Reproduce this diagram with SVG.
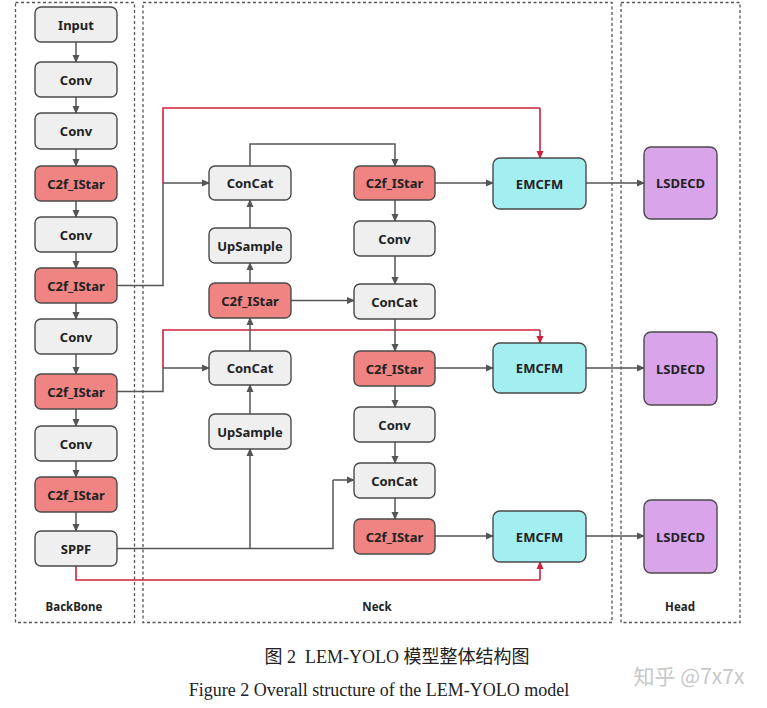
<svg xmlns="http://www.w3.org/2000/svg" width="767" height="708" viewBox="0 0 767 708">
<defs>
<marker id="ag" markerWidth="8" markerHeight="8" refX="7" refY="4" orient="auto" markerUnits="userSpaceOnUse"><path d="M0,0.5 L8,4 L0,7.5 Z" fill="#555"/></marker>
<marker id="ar" markerWidth="8" markerHeight="8" refX="7" refY="4" orient="auto" markerUnits="userSpaceOnUse"><path d="M0,0.5 L8,4 L0,7.5 Z" fill="#d0203a"/></marker>
</defs>
<style>
.grp{fill:none;stroke:#555;stroke-width:1.3;stroke-dasharray:3 2.5}
.n rect{stroke:#4a4a4a;stroke-width:1.4}
.g rect{fill:#efefef}
.r rect{fill:#ef8482}
.c rect{fill:#a2eef0}
.p rect{fill:#daa4ea}
.n text{font-family:"Noto Sans","Liberation Sans",sans-serif;font-weight:bold;font-size:13px;fill:#222;text-anchor:middle;dominant-baseline:central}
.lbl{font-family:"Noto Sans","Liberation Sans",sans-serif;font-weight:bold;font-size:11.5px;fill:#222;text-anchor:middle}
.e{fill:none;stroke:#555;stroke-width:1.5}
.ea{fill:none;stroke:#555;stroke-width:1.5;marker-end:url(#ag)}
.re{fill:none;stroke:#d0203a;stroke-width:1.6}
.ra{fill:none;stroke:#d0203a;stroke-width:1.6;marker-end:url(#ar)}
</style>
<rect width="767" height="708" fill="#fff"/>
<g id="groups">
<rect class="grp" x="15.5" y="2.5" width="119" height="620"/>
<rect class="grp" x="143" y="2.5" width="469" height="620"/>
<rect class="grp" x="621" y="2.5" width="119" height="620"/>
<text class="lbl" x="74" y="611">BackBone</text>
<text class="lbl" x="377" y="611">Neck</text>
<text class="lbl" x="680" y="611">Head</text>
</g>
<g id="connectors">
<path class="ea" d="M76,42 V62"/>
<path class="ea" d="M76,97 V113"/>
<path class="ea" d="M76,149 V166"/>
<path class="ea" d="M76,201 V217"/>
<path class="ea" d="M76,252 V268"/>
<path class="ea" d="M76,303 V319"/>
<path class="ea" d="M76,354 V374"/>
<path class="ea" d="M76,409 V426"/>
<path class="ea" d="M76,461 V477"/>
<path class="ea" d="M76,512 V531"/>
<path class="e" d="M117,285.5 H163 V183"/>
<path class="ea" d="M163,183 H209"/>
<path class="re" d="M163,183 V108 H540"/>
<path class="ra" d="M540,108 V158"/>
<path class="e" d="M117,391.5 H163 V368"/>
<path class="ea" d="M163,368 H209"/>
<path class="re" d="M163,368 V330 H540"/>
<path class="ra" d="M540,330 V343"/>
<path class="e" d="M117,548.5 H333 V480"/>
<path class="ea" d="M333,480 H354"/>
<path class="ea" d="M250,548.5 V449"/>
<path class="re" d="M76,566 V580 H540"/>
<path class="ra" d="M540,580 V562"/>
<path class="ea" d="M250,414 V385"/>
<path class="ea" d="M250,351 V318"/>
<path class="ea" d="M250,283 V263"/>
<path class="ea" d="M250,228 V200"/>
<path class="ea" d="M250,166 V144 H395 V166"/>
<path class="ea" d="M291,300.5 H354"/>
<path class="ea" d="M395,200 V221"/>
<path class="ea" d="M395,256 V284"/>
<path class="ea" d="M395,319 V351"/>
<path class="ea" d="M395,386 V407"/>
<path class="ea" d="M395,442 V463"/>
<path class="ea" d="M395,498 V519"/>
<path class="ea" d="M435,183 H493"/>
<path class="ea" d="M435,368 H493"/>
<path class="ea" d="M435,536 H493"/>
<path class="ea" d="M586,183 H644"/>
<path class="ea" d="M586,368 H644"/>
<path class="ea" d="M586,536 H644"/>
</g>
<g id="bb_input" class="n g"><rect x="35" y="7" width="82" height="35" rx="6"/><text x="76" y="24.5">Input</text></g>
<g id="bb_conv1" class="n g"><rect x="35" y="62" width="82" height="35" rx="6"/><text x="76" y="79.5">Conv</text></g>
<g id="bb_conv2" class="n g"><rect x="35" y="113" width="82" height="36" rx="6"/><text x="76" y="131">Conv</text></g>
<g id="bb_c2f1" class="n r"><rect x="35" y="166" width="82" height="35" rx="6"/><text x="76" y="183.5">C2f_IStar</text></g>
<g id="bb_conv3" class="n g"><rect x="35" y="217" width="82" height="35" rx="6"/><text x="76" y="234.5">Conv</text></g>
<g id="bb_c2f2" class="n r"><rect x="35" y="268" width="82" height="35" rx="6"/><text x="76" y="285.5">C2f_IStar</text></g>
<g id="bb_conv4" class="n g"><rect x="35" y="319" width="82" height="35" rx="6"/><text x="76" y="336.5">Conv</text></g>
<g id="bb_c2f3" class="n r"><rect x="35" y="374" width="82" height="35" rx="6"/><text x="76" y="391.5">C2f_IStar</text></g>
<g id="bb_conv5" class="n g"><rect x="35" y="426" width="82" height="35" rx="6"/><text x="76" y="443.5">Conv</text></g>
<g id="bb_c2f4" class="n r"><rect x="35" y="477" width="82" height="35" rx="6"/><text x="76" y="494.5">C2f_IStar</text></g>
<g id="bb_sppf" class="n g"><rect x="35" y="531" width="82" height="35" rx="6"/><text x="76" y="548.5">SPPF</text></g>
<g id="n_concat1" class="n g"><rect x="209" y="166" width="82" height="34" rx="6"/><text x="250" y="183">ConCat</text></g>
<g id="n_up1" class="n g"><rect x="209" y="228" width="82" height="35" rx="6"/><text x="250" y="245.5">UpSample</text></g>
<g id="n_c2f1" class="n r"><rect x="209" y="283" width="82" height="35" rx="6"/><text x="250" y="300.5">C2f_IStar</text></g>
<g id="n_concat2" class="n g"><rect x="209" y="351" width="82" height="34" rx="6"/><text x="250" y="368">ConCat</text></g>
<g id="n_up2" class="n g"><rect x="209" y="414" width="82" height="35" rx="6"/><text x="250" y="431.5">UpSample</text></g>
<g id="n_c2f2" class="n r"><rect x="354" y="166" width="81" height="34" rx="6"/><text x="394.5" y="183">C2f_IStar</text></g>
<g id="n_conv1" class="n g"><rect x="354" y="221" width="81" height="35" rx="6"/><text x="394.5" y="238.5">Conv</text></g>
<g id="n_concat3" class="n g"><rect x="354" y="284" width="81" height="35" rx="6"/><text x="394.5" y="301.5">ConCat</text></g>
<g id="n_c2f3" class="n r"><rect x="354" y="351" width="81" height="35" rx="6"/><text x="394.5" y="368.5">C2f_IStar</text></g>
<g id="n_conv2" class="n g"><rect x="354" y="407" width="81" height="35" rx="6"/><text x="394.5" y="424.5">Conv</text></g>
<g id="n_concat4" class="n g"><rect x="354" y="463" width="81" height="35" rx="6"/><text x="394.5" y="480.5">ConCat</text></g>
<g id="n_c2f4" class="n r"><rect x="354" y="519" width="81" height="35" rx="6"/><text x="394.5" y="536.5">C2f_IStar</text></g>
<g id="emcfm1" class="n c"><rect x="493" y="158" width="93" height="51" rx="7"/><text x="539.5" y="183.5">EMCFM</text></g>
<g id="emcfm2" class="n c"><rect x="493" y="343" width="93" height="50" rx="7"/><text x="539.5" y="368">EMCFM</text></g>
<g id="emcfm3" class="n c"><rect x="493" y="511" width="93" height="51" rx="7"/><text x="539.5" y="536.5">EMCFM</text></g>
<g id="lsdecd1" class="n p"><rect x="644" y="147" width="73" height="72" rx="7"/><text x="680.5" y="183">LSDECD</text></g>
<g id="lsdecd2" class="n p"><rect x="644" y="332" width="73" height="73" rx="7"/><text x="680.5" y="368.5">LSDECD</text></g>
<g id="lsdecd3" class="n p"><rect x="644" y="500" width="73" height="73" rx="7"/><text x="680.5" y="536.5">LSDECD</text></g>
<g id="caption">
<text x="397" y="663" font-family="'Liberation Serif','Noto Sans CJK SC',serif" font-size="18" fill="#222" text-anchor="middle" xml:space="preserve">图 2  LEM-YOLO 模型整体结构图</text>
<text x="379" y="696" font-family="'Liberation Serif',serif" font-size="18" fill="#222" text-anchor="middle">Figure 2 Overall structure of the LEM-YOLO model</text>
<text x="689" y="684" font-family="'Noto Sans CJK SC','Noto Sans',sans-serif" font-size="21" fill="#c8c8c8" text-anchor="middle">知乎 @7x7x</text>
</g>
</svg>
